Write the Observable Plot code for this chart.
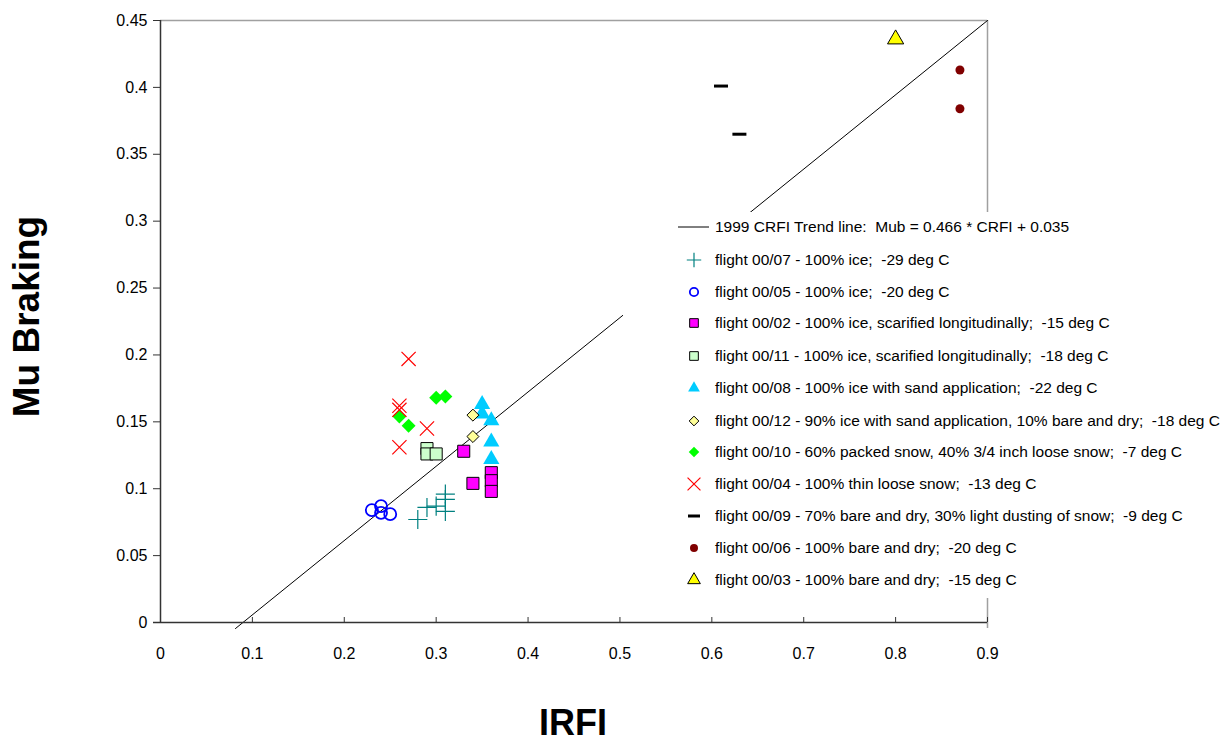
<!DOCTYPE html>
<html>
<head>
<meta charset="utf-8">
<script src="https://cdn.jsdelivr.net/npm/d3@7"></script>
<script src="https://cdn.jsdelivr.net/npm/@observablehq/plot@0.6"></script>
<style>
  html, body { margin: 0; padding: 0; background: #fff; }
  #wrap { position: relative; width: 1230px; height: 745px; font-family: "Liberation Sans", Arial, sans-serif; }
  #legend { position: absolute; left: 623px; top: 212px; width: 607px; height: 386px; background: #fff; }
  .row { position: absolute; left: 0; height: 20px; line-height: 20px; font-size: 15.5px; white-space: pre; color: #000; }
  .row svg { position: absolute; top: 0; }
  .row span { position: absolute; left: 92px; top: 0; }
</style>
</head>
<body>
<div id="wrap"></div>
<script>
// ---- data ----
const xTicks = [0, 0.1, 0.2, 0.3, 0.4, 0.5, 0.6, 0.7, 0.8, 0.9];
const yTicks = [0, 0.05, 0.1, 0.15, 0.2, 0.25, 0.3, 0.35, 0.4, 0.45];

const trendX = [0.0816, 0.9];
const trendY = [-0.0045, 0.45];

const flight0007 = [[0.28, 0.077], [0.29, 0.086], [0.30, 0.087], [0.31, 0.096], [0.31, 0.092], [0.31, 0.083]];
const flight0005 = [[0.23, 0.084], [0.24, 0.087], [0.24, 0.082], [0.25, 0.081]];
const flight0002 = [[0.33, 0.128], [0.34, 0.104], [0.36, 0.112], [0.36, 0.106], [0.36, 0.098]];
const flight0011 = [[0.29, 0.130], [0.29, 0.126], [0.30, 0.126]];
const flight0008 = [[0.35, 0.163], [0.35, 0.156], [0.36, 0.151], [0.36, 0.135], [0.36, 0.122]];
const flight0012 = [[0.34, 0.155], [0.34, 0.139]];
const flight0010 = [[0.30, 0.168], [0.31, 0.169], [0.26, 0.154], [0.27, 0.147]];
const flight0004 = [[0.27, 0.197], [0.26, 0.162], [0.26, 0.159], [0.29, 0.145], [0.26, 0.131]];
const flight0009 = [[0.61, 0.401], [0.63, 0.365]];
const flight0006 = [[0.87, 0.413], [0.87, 0.384]];
const flight0003 = [[0.80, 0.436]];

const trendLabel = "1999 CRFI Trend line:  Mub = 0.466 * CRFI + 0.035";
const seriesLabels = [
  "flight 00/07 - 100% ice;  -29 deg C",
  "flight 00/05 - 100% ice;  -20 deg C",
  "flight 00/02 - 100% ice, scarified longitudinally;  -15 deg C",
  "flight 00/11 - 100% ice, scarified longitudinally;  -18 deg C",
  "flight 00/08 - 100% ice with sand application;  -22 deg C",
  "flight 00/12 - 90% ice with sand application, 10% bare and dry;  -18 deg C",
  "flight 00/10 - 60% packed snow, 40% 3/4 inch loose snow;  -7 deg C",
  "flight 00/04 - 100% thin loose snow;  -13 deg C",
  "flight 00/09 - 70% bare and dry, 30% light dusting of snow;  -9 deg C",
  "flight 00/06 - 100% bare and dry;  -20 deg C",
  "flight 00/03 - 100% bare and dry;  -15 deg C"
];
const seriesData = [flight0007, flight0005, flight0002, flight0011, flight0008, flight0012, flight0010, flight0004, flight0009, flight0006, flight0003];

// ---- styles ----
const dash = { draw(ctx) { ctx.moveTo(-7, 0); ctx.lineTo(7, 0); } };
const styles = [
  { symbol: "plus", stroke: "#008080", fill: "none", r: 6.2, strokeWidth: 1.2, lsym: d3.symbolPlus, lsize: 70 },
  { symbol: "circle", stroke: "#0000FF", fill: "none", r: 6, strokeWidth: 1.8, lsym: d3.symbolCircle, lsize: 55 },
  { symbol: "square", stroke: "#000", fill: "#FF00FF", r: 6.8, strokeWidth: 1, lsym: d3.symbolSquare, lsize: 75 },
  { symbol: "square", stroke: "#000", fill: "#CCFFCC", r: 6.8, strokeWidth: 1, lsym: d3.symbolSquare, lsize: 75 },
  { symbol: "triangle", stroke: "none", fill: "#00CCFF", r: 6, strokeWidth: 0, lsym: d3.symbolTriangle, lsize: 60 },
  { symbol: "diamond2", stroke: "#000", fill: "#FFFF99", r: 5.4, strokeWidth: 1, lsym: d3.symbolDiamond2, lsize: 60 },
  { symbol: "diamond2", stroke: "none", fill: "#00FF00", r: 6.3, strokeWidth: 0, lsym: d3.symbolDiamond2, lsize: 70 },
  { symbol: "times", stroke: "#FF0000", fill: "none", r: 6.5, strokeWidth: 1.2, lsym: d3.symbolTimes, lsize: 110 },
  { symbol: dash, stroke: "#000", fill: "none", r: 5, strokeWidth: 3, lsym: null, lsize: 0 },
  { symbol: "circle", stroke: "none", fill: "#800000", r: 4.5, strokeWidth: 0, lsym: d3.symbolCircle, lsize: 50 },
  { symbol: "triangle", stroke: "#000", fill: "#FFFF00", r: 6, strokeWidth: 1, lsym: d3.symbolTriangle, lsize: 70 }
];

const fmt = d => String(+d.toFixed(2));

const dotMarks = seriesData.map((data, i) => {
  const s = styles[i];
  return Plot.dot(data, {
    x: d => d[0], y: d => d[1],
    symbol: s.symbol, r: s.r, fill: s.fill, stroke: s.stroke, strokeWidth: s.strokeWidth
  });
});

const trend = trendX.map((x, i) => ({ x, y: trendY[i] }));

const chart = Plot.plot({
  width: 1230,
  height: 745,
  marginLeft: 160,
  marginRight: 243,
  marginTop: 20,
  marginBottom: 123,
  style: { fontFamily: "Liberation Sans, Arial, sans-serif", fontSize: "16px", color: "#000", background: "#fff" },
  x: { domain: [0, 0.9] },
  y: { domain: [0, 0.45] },
  marks: [
    Plot.ruleY([0.45], { stroke: "#a0a0a0", strokeWidth: 1.5 }),
    Plot.ruleX([0.9], { stroke: "#a0a0a0", strokeWidth: 1.5, insetBottom: -6 }),
    Plot.ruleX(xTicks, { stroke: "#333", insetTop: 597 }),
    Plot.axisY({ ticks: yTicks, tickFormat: fmt, tickSize: 7, tickPadding: 6, label: null, stroke: "#333", fontSize: 16 }),
    Plot.axisX({ ticks: xTicks, tickFormat: fmt, tickSize: 0, tickPadding: 25, label: null, fontSize: 16 }),
    Plot.line(trend, { x: "x", y: "y", stroke: "#000", strokeWidth: 1 }),
    ...dotMarks,
    Plot.ruleX([0], { stroke: "#333", strokeWidth: 1.5 }),
    Plot.ruleY([0], { stroke: "#333", strokeWidth: 1.5, insetLeft: -7 }),
    Plot.text(["IRFI"], { text: d => d, frameAnchor: "bottom", dy: 112, dx: -1, fontSize: 36, fontWeight: "bold", textAnchor: "middle" }),
    Plot.text(["Mu Braking"], { text: d => d, frameAnchor: "left", dx: -133, dy: -5, rotate: -90, fontSize: 37, fontWeight: "bold", textAnchor: "middle" })
  ]
});

const wrap = document.getElementById("wrap");
wrap.appendChild(chart);

// ---- legend (HTML overlay) ----
const legend = document.createElement("div");
legend.id = "legend";
wrap.appendChild(legend);

const rowY = [227, 260, 292, 323, 356, 388, 421, 452, 484, 516, 548, 580];
function addRow(i, label, svgInner) {
  const row = document.createElement("div");
  row.className = "row";
  row.style.top = (rowY[i] - 212 - 10) + "px";
  row.innerHTML = `<svg width="90" height="20" style="left:0">${svgInner}</svg><span></span>`;
  row.querySelector("span").textContent = label;
  legend.appendChild(row);
}
addRow(0, trendLabel, `<line x1="55" x2="86" y1="10" y2="10" stroke="#000" stroke-width="1"/>`);
seriesLabels.forEach((label, i) => {
  const s = styles[i];
  let inner;
  if (!s.lsym) {
    inner = `<path d="M-6,0H6" transform="translate(71,10)" stroke="#000" stroke-width="3"/>`;
  } else {
    const p = d3.symbol(s.lsym, s.lsize)();
    inner = `<path d="${p}" transform="translate(71,10)" fill="${s.fill}" stroke="${s.stroke}" stroke-width="${s.strokeWidth || 0}"/>`;
  }
  addRow(i + 1, label, inner);
});
</script>
</body>
</html>
